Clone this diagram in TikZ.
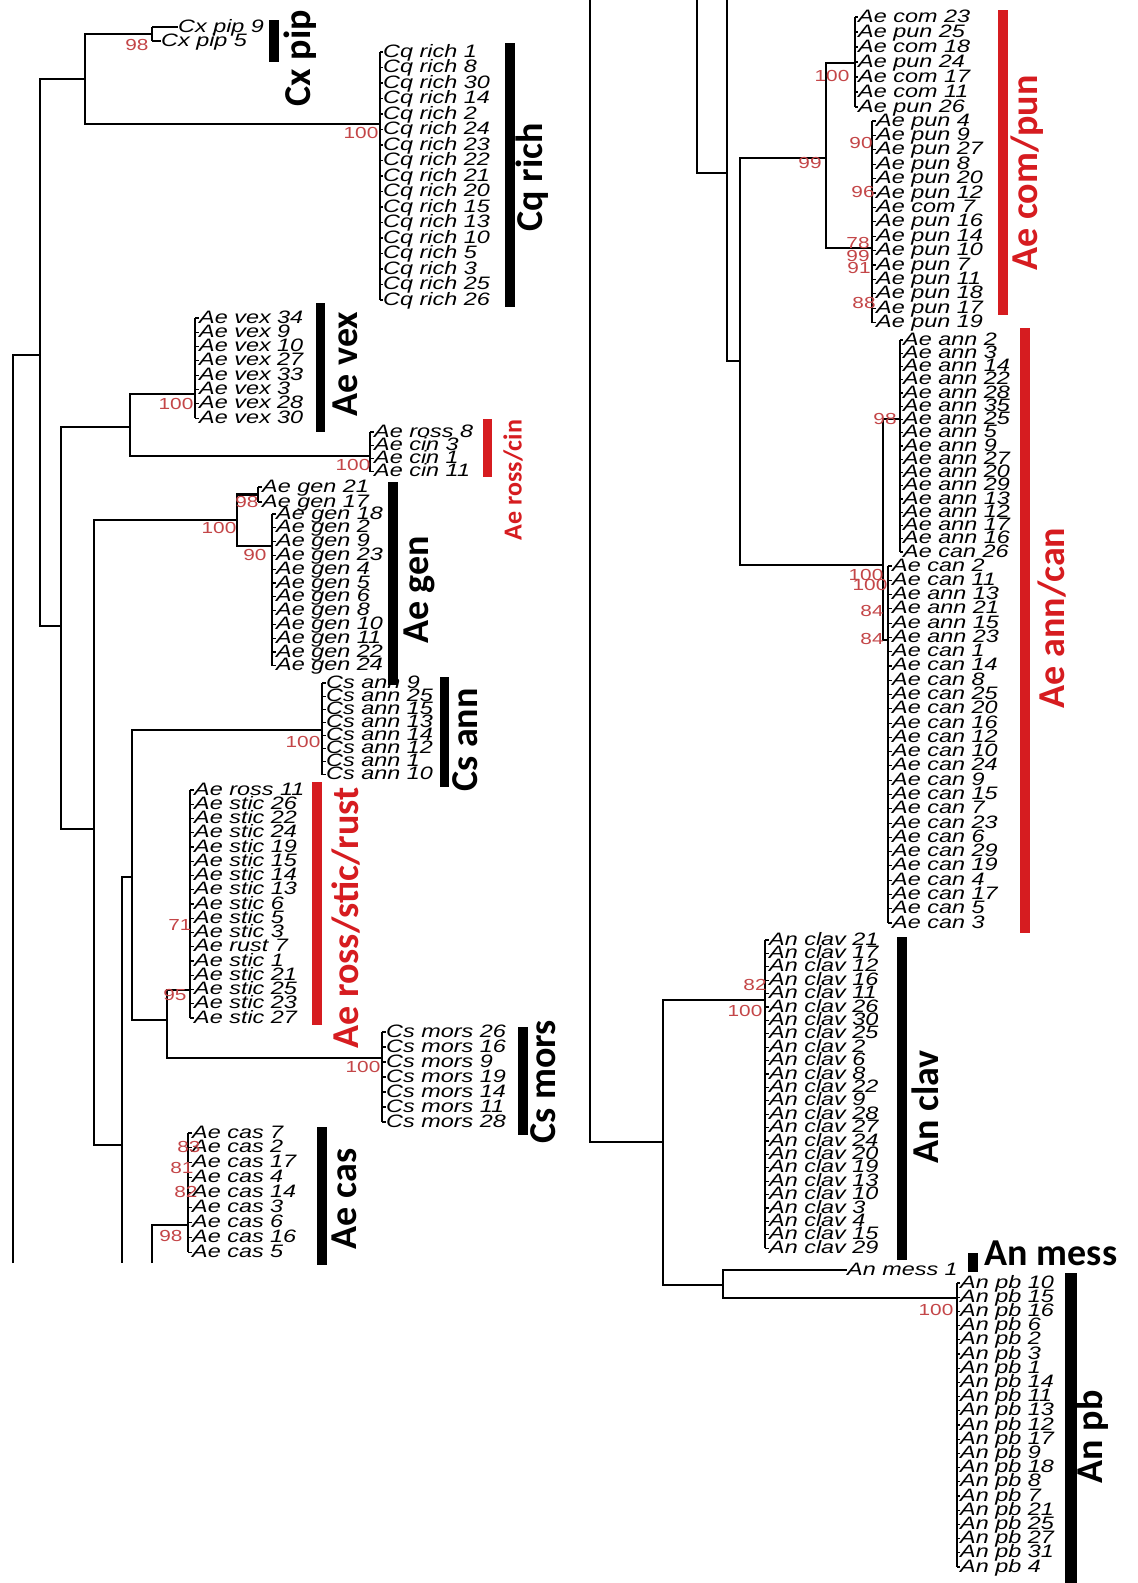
\documentclass[tikz,border=0pt]{standalone}
\usepackage{fontspec}
\usepackage{graphicx}
\setmainfont{Liberation Sans}
\newfontfamily\leaffont[FakeStretch=1.3]{Liberation Sans}
\newfontfamily\grpfont{Carlito}
\definecolor{cladered}{RGB}{214,28,32}
\definecolor{bootred}{RGB}{196,70,72}
\tikzset{
  br/.style={line width=2.3pt},
  lv/.style={line width=2pt},
  tick/.style={line width=1.1pt},
  leaf/.style={anchor=west, inner sep=0pt, font=\leaffont\itshape\fontsize{18}{18}\selectfont, text height=12pt, text depth=2pt},
  boot/.style={inner sep=0pt, font=\leaffont\fontsize{16}{16}\selectfont, text=bootred},
  grp/.style={inner sep=0pt, rotate=90, font=\grpfont\bfseries\fontsize{38}{38}\selectfont},
  grpred/.style={grp, text=cladered},
  bar/.style={fill=black},
  redbar/.style={fill=cladered}
}
\newcommand\leafgroup[7]{%
  \draw[lv] (#2,#3) -- ++(0,{(#6-1)*#4});
  \foreach \t [count=\i from 0] in {#7}{%
    \pgfmathsetmacro\yy{#3+\i*#4}
    \coordinate (#1v\i) at (#2,\yy);
    \node[leaf] (#1\i) at (#5,\yy) {\t};
    \draw[tick] (#1v\i) -- (#1\i.west);
  }}
\begin{document}
\begin{tikzpicture}[x=1pt,y=-1pt]
\path[use as bounding box, fill=white] (0,0) rectangle (1138,1583);

% ---------------- left column: internal nodes
\coordinate (rootLcut) at (13,1263);
\coordinate (nA) at (40,355);
\coordinate (nB) at (85,79);
\coordinate (nCx) at (152,34);
\coordinate (nCq) at (380,124);
\coordinate (nC) at (61,626);
\coordinate (nD) at (130,427);
\coordinate (nVex) at (195,394);
\coordinate (nCin) at (370,456);
\coordinate (nE) at (94,829);
\coordinate (nGen) at (237,520);
\coordinate (nGenA) at (258,494.5);
\coordinate (nGenB) at (272,546);
\coordinate (nF) at (122,1145);
\coordinate (nFcut) at (122,1263);
\coordinate (nG) at (132,877);
\coordinate (nCsann) at (322,730);
\coordinate (nI) at (167,1020);
\coordinate (nStic) at (190,990);
\coordinate (nMors) at (382,1058);
\coordinate (nHcut) at (152,1263);
\coordinate (nCas) at (188,1225);

\draw[br] (rootLcut) |- (nA);
\draw[br] (nA) |- (nB);
\draw[br] (nA) |- (nC);
\draw[br] (nB) |- (nCx);
\draw[br] (nB) |- (nCq);
\draw[br] (nC) |- (nD);
\draw[br] (nC) |- (nE);
\draw[br] (nD) |- (nVex);
\draw[br] (nD) |- (nCin);
\draw[br] (nE) |- (nGen);
\draw[br] (nE) |- (nF);
\draw[br] (nGen) |- (nGenA);
\draw[br] (nGen) |- (nGenB);
\draw[br] (nF) |- (nG);
\draw[br] (nF) -- (nFcut);
\draw[br] (nG) |- (nCsann);
\draw[br] (nG) |- (nI);
\draw[br] (nI) |- (nStic);
\draw[br] (nI) |- (nMors);
\draw[br] (nHcut) |- (nCas);

% Cx pip
\coordinate (cxv0) at (152,27);
\coordinate (cxv1) at (152,41);
\draw[lv] (cxv0) -- (cxv1);
\node[leaf] (cx0) at (178,27) {Cx pip 9};
\node[leaf] (cx1) at (161,41) {Cx pip 5};
\draw[tick] (cxv0) -- (cx0.west);
\draw[tick] (cxv1) -- (cx1.west);

\leafgroup{cq}{380}{52}{15.5}{383}{17}{Cq rich 1,Cq rich 8,Cq rich 30,Cq rich 14,Cq rich 2,Cq rich 24,Cq rich 23,Cq rich 22,Cq rich 21,Cq rich 20,Cq rich 15,Cq rich 13,Cq rich 10,Cq rich 5,Cq rich 3,Cq rich 25,Cq rich 26}
\leafgroup{vex}{195}{318}{14.3}{199}{8}{Ae vex 34,Ae vex 9,Ae vex 10,Ae vex 27,Ae vex 33,Ae vex 3,Ae vex 28,Ae vex 30}
\leafgroup{cin}{370}{432}{13.3}{374}{4}{Ae ross 8,Ae cin 3,Ae cin 1,Ae cin 11}
\leafgroup{gena}{258}{487}{15}{262}{2}{Ae gen 21,Ae gen 17}
\leafgroup{genb}{272}{514}{13.8}{276}{12}{Ae gen 18,Ae gen 2,Ae gen 9,Ae gen 23,Ae gen 4,Ae gen 5,Ae gen 6,Ae gen 8,Ae gen 10,Ae gen 11,Ae gen 22,Ae gen 24}
\leafgroup{csann}{322}{683}{13.1}{326}{8}{Cs ann 9,Cs ann 25,Cs ann 15,Cs ann 13,Cs ann 14,Cs ann 12,Cs ann 1,Cs ann 10}
\leafgroup{stic}{190}{790}{14.25}{194}{17}{Ae ross 11,Ae stic 26,Ae stic 22,Ae stic 24,Ae stic 19,Ae stic 15,Ae stic 14,Ae stic 13,Ae stic 6,Ae stic 5,Ae stic 3,Ae rust 7,Ae stic 1,Ae stic 21,Ae stic 25,Ae stic 23,Ae stic 27}
\leafgroup{mors}{382}{1032}{15}{386}{7}{Cs mors 26,Cs mors 16,Cs mors 9,Cs mors 19,Cs mors 14,Cs mors 11,Cs mors 28}
\leafgroup{cas}{188}{1133}{14.9}{192}{9}{Ae cas 7,Ae cas 2,Ae cas 17,Ae cas 4,Ae cas 14,Ae cas 3,Ae cas 6,Ae cas 16,Ae cas 5}

% ---------------- right column: internal nodes
\coordinate (rootRtop) at (590,0);
\coordinate (nAn) at (663,1142);
\coordinate (nFtop) at (697,0);
\coordinate (nHtop) at (727,0);
\coordinate (nH) at (727,173);
\coordinate (nJ) at (740,361);
\coordinate (nComPun) at (826,158);
\coordinate (nCom) at (855,63);
\coordinate (nPun) at (872,248);
\coordinate (nAnnCan) at (883,565);
\coordinate (nAnn) at (900,419);
\coordinate (nCan) at (888,640);
\coordinate (nClav) at (765,1000);
\coordinate (nMessPb) at (723,1285);
\coordinate (nPb) at (957,1298);

\draw[br] (rootRtop) |- (nAn);
\draw[br] (nFtop) |- (nH);
\draw[br] (nHtop) |- (nJ);
\draw[br] (nJ) |- (nComPun);
\draw[br] (nJ) |- (nAnnCan);
\draw[br] (nComPun) |- (nCom);
\draw[br] (nComPun) |- (nPun);
\draw[br] (nAnnCan) |- (nAnn);
\draw[br] (nAnnCan) |- (nCan);
\draw[br] (nAn) |- (nClav);
\draw[br] (nAn) |- (nMessPb);
\node[leaf] (mess) at (847,1270) {An mess 1};
\draw[br] (nMessPb) |- (mess.west);
\draw[br] (nMessPb) |- (nPb);

\leafgroup{com}{855}{17}{15}{858}{7}{Ae com 23,Ae pun 25,Ae com 18,Ae pun 24,Ae com 17,Ae com 11,Ae pun 26}
\leafgroup{pun}{872}{121}{14.4}{876}{15}{Ae pun 4,Ae pun 9,Ae pun 27,Ae pun 8,Ae pun 20,Ae pun 12,Ae com 7,Ae pun 16,Ae pun 14,Ae pun 10,Ae pun 7,Ae pun 11,Ae pun 18,Ae pun 17,Ae pun 19}
\leafgroup{ann}{900}{340}{13.25}{903}{17}{Ae ann 2,Ae ann 3,Ae ann 14,Ae ann 22,Ae ann 28,Ae ann 35,Ae ann 25,Ae ann 5,Ae ann 9,Ae ann 27,Ae ann 20,Ae ann 29,Ae ann 13,Ae ann 12,Ae ann 17,Ae ann 16,Ae can 26}
\leafgroup{can}{888}{566}{14.28}{892}{26}{Ae can 2,Ae can 11,Ae ann 13,Ae ann 21,Ae ann 15,Ae ann 23,Ae can 1,Ae can 14,Ae can 8,Ae can 25,Ae can 20,Ae can 16,Ae can 12,Ae can 10,Ae can 24,Ae can 9,Ae can 15,Ae can 7,Ae can 23,Ae can 6,Ae can 29,Ae can 19,Ae can 4,Ae can 17,Ae can 5,Ae can 3}
\leafgroup{clav}{765}{940}{13.4}{769}{24}{An clav 21,An clav 17,An clav 12,An clav 16,An clav 11,An clav 26,An clav 30,An clav 25,An clav 2,An clav 6,An clav 8,An clav 22,An clav 9,An clav 28,An clav 27,An clav 24,An clav 20,An clav 19,An clav 13,An clav 10,An clav 3,An clav 4,An clav 15,An clav 29}
\leafgroup{pb}{957}{1283}{14.2}{960}{21}{An pb 10,An pb 15,An pb 16,An pb 6,An pb 2,An pb 3,An pb 1,An pb 14,An pb 11,An pb 13,An pb 12,An pb 17,An pb 9,An pb 18,An pb 8,An pb 7,An pb 21,An pb 25,An pb 27,An pb 31,An pb 4}

% ---------------- bootstrap values
\node[boot] (bs1) at (137,45) {98};
\node[boot] (bs2) at (361,133) {100};
\node[boot] (bs3) at (176,404) {100};
\node[boot] (bs4) at (353,465) {100};
\node[boot] (bs5) at (247,502) {98};
\node[boot] (bs6) at (219,528) {100};
\node[boot] (bs7) at (255,555) {90};
\node[boot] (bs8) at (303,742) {100};
\node[boot] (bs9) at (180,925) {71};
\node[boot] (bs10) at (175,995) {95};
\node[boot] (bs11) at (363,1067) {100};
\node[boot] (bs12) at (189,1147) {83};
\node[boot] (bs13) at (182,1168) {81};
\node[boot] (bs14) at (186,1192) {82};
\node[boot] (bs15) at (171,1236) {98};
\node[boot] (bs16) at (832,76) {100};
\node[boot] (bs17) at (810,163) {99};
\node[boot] (bs18) at (861,143) {90};
\node[boot] (bs19) at (863,192) {96};
\node[boot] (bs20) at (858,243) {78};
\node[boot] (bs21) at (858,256) {99};
\node[boot] (bs22) at (859,268) {91};
\node[boot] (bs23) at (864,303) {88};
\node[boot] (bs24) at (885,419) {98};
\node[boot] (bs25) at (866,575) {100};
\node[boot] (bs26) at (870,585) {100};
\node[boot] (bs27) at (872,611) {84};
\node[boot] (bs28) at (872,639) {84};
\node[boot] (bs29) at (755,985) {82};
\node[boot] (bs30) at (745,1011) {100};
\node[boot] (bs31) at (936,1310) {100};

% ---------------- clade bars
\fill[bar] (269,20) rectangle (279,62);
\fill[bar] (505,43) rectangle (515,307);
\fill[bar] (316,303) rectangle (325,432);
\fill[redbar] (483,419) rectangle (492,477);
\fill[bar] (388,482) rectangle (398,685);
\fill[bar] (440,677) rectangle (449,787);
\fill[redbar] (312,782) rectangle (322,1025);
\fill[bar] (518,1027) rectangle (528,1135);
\fill[bar] (317,1127) rectangle (327,1265);
\fill[redbar] (998,10) rectangle (1008,315);
\fill[redbar] (1020,328) rectangle (1030,933);
\fill[bar] (897,937) rectangle (907,1260);
\fill[bar] (968,1253) rectangle (978,1272);
\fill[bar] (1065,1273) rectangle (1077,1583);

% ---------------- clade labels
\node[grp] (gCx) at (300,58) {Cx pip};
\node[grp] (gCq) at (532,177) {Cq rich};
\node[grp] (gVex) at (345,364) {Ae vex};
\node[grpred, font=\grpfont\bfseries\fontsize{26}{26}\selectfont] (gCin) at (513,480) {Ae ross/cin};
\node[grp] (gGen) at (419,590) {Ae gen};
\node[grp] (gCsann) at (465,740) {Cs ann};
\node[grpred] (gStic) at (346,918) {Ae ross/stic/rust};
\node[grp] (gMors) at (543,1082) {Cs mors};
\node[grp] (gCas) at (344,1199) {Ae cas};
\node[grpred] (gCom) at (1027,173) {Ae com/pun};
\node[grpred] (gAnn) at (1052,618) {Ae ann/can};
\node[grp] (gClav) at (925,1107) {An clav};
\node[grp] (gPb) at (1092,1437) {An pb};
\node[grp, rotate=-90] (gMess) at (1051,1253) {An mess};
\end{tikzpicture}
\end{document}
